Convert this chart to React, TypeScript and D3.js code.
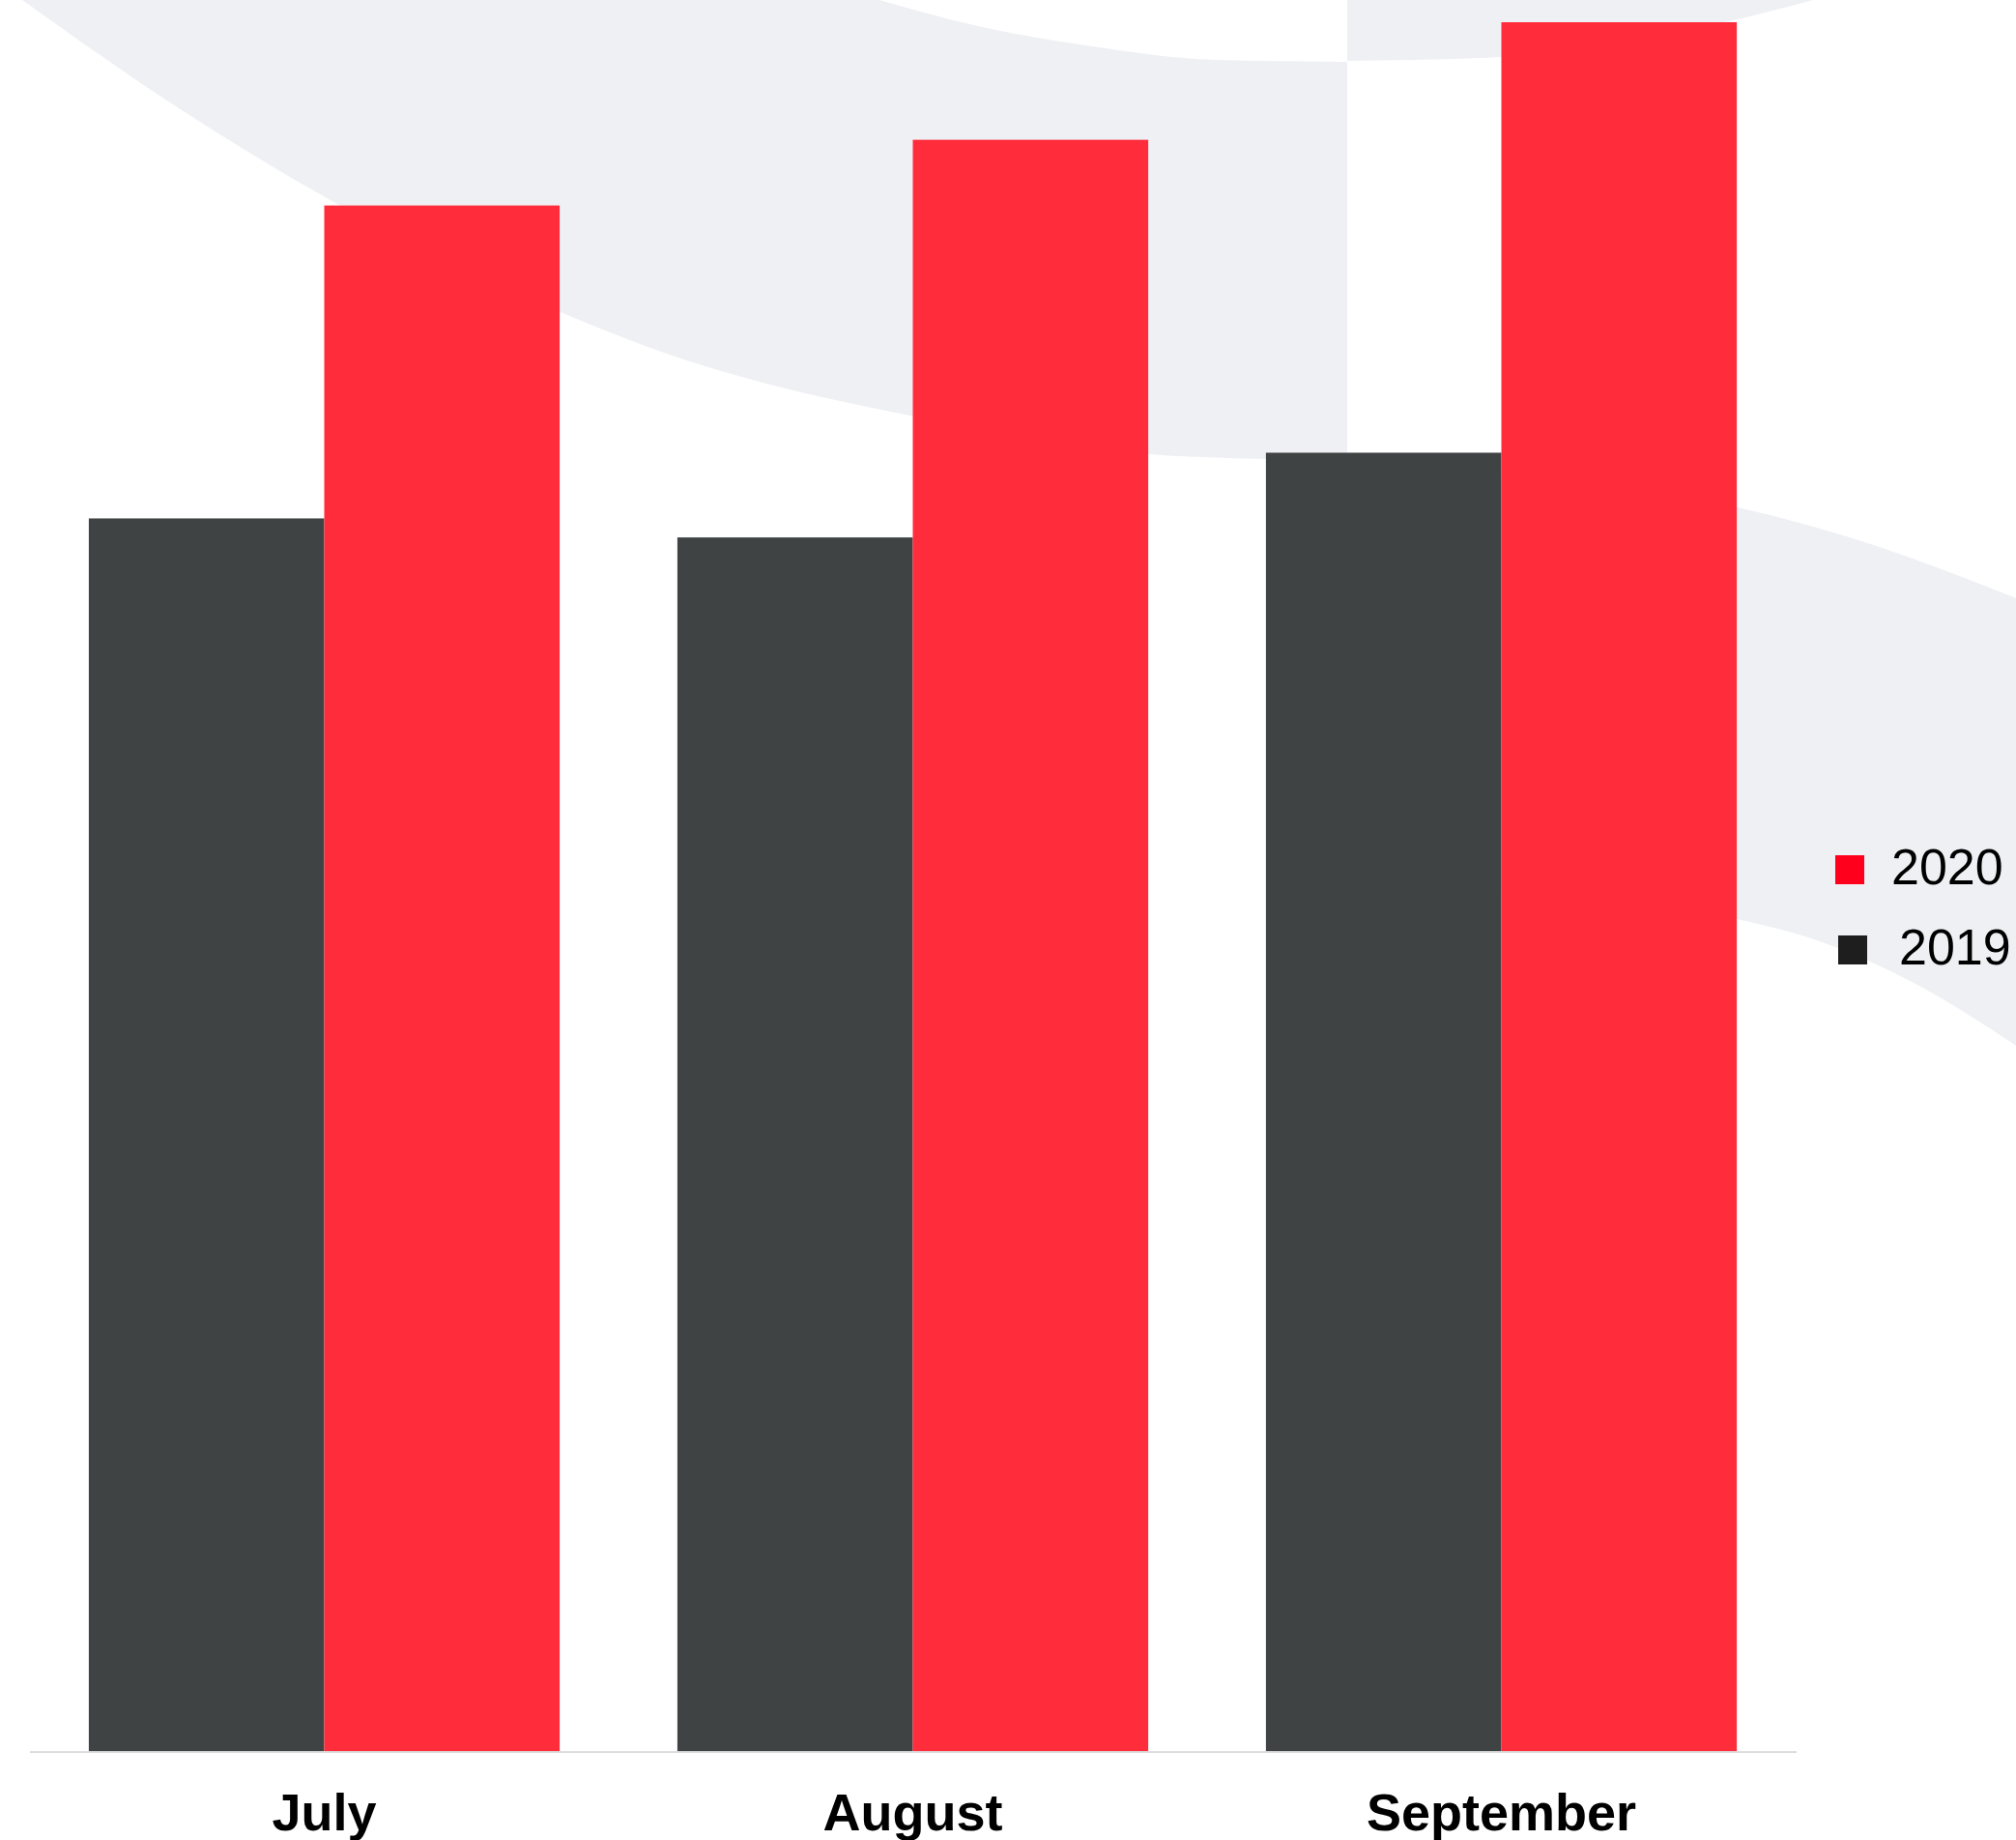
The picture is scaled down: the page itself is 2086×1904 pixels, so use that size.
import * as d3 from "d3";

// chart data
const months = ["July", "August", "September"];
const seriesNames = ["2019", "2020"];
const values2019 = [71.3, 70.2, 75.1];
const values2020 = [89.4, 93.2, 100];
const seriesColors: Record<string, string> = { "2019": "#3f4344", "2020": "#ff2d3b" };
const legendOrder = ["2020", "2019"];
const legendColors: Record<string, string> = { "2020": "#ff001c", "2019": "#1e1e1e" };

// decorative background swoosh outlines
const lowerCurve: [number, number][] = [
  [23, 0], [185, 112], [347, 210], [580, 323], [693, 367], [793, 397],
  [893, 420], [1040, 448], [1189, 470], [1311, 475], [1394, 477],
];
const upperCurveLeft: [number, number][] = [
  [1394, 64], [1258, 62], [1124, 47], [1012, 27], [910, 0],
];
const upperCurveRight: [number, number][] = [
  [1394, 63], [1553, 59], [1798, 20], [1876, 0],
];
const bandTop: [number, number][] = [
  [1394, 477], [1600, 495], [1798, 525], [1920, 558], [2086, 619],
];
const bandBottom: [number, number][] = [
  [2086, 1082], [1980, 1017], [1880, 973], [1797, 951], [1600, 925], [1394, 915],
];

const W = 2086;
const H = 1904;

export default function App() {
  const x0 = d3.scaleBand<string>().domain(months).range([31, 1858]).paddingInner(0.2).paddingOuter(0.1);
  const x1 = d3.scaleBand<string>().domain(seriesNames).range([0, x0.bandwidth()]).padding(0);
  const y = d3.scaleLinear().domain([0, 100]).range([1812, 23]);

  const line = d3.line<[number, number]>().curve(d3.curveMonotoneX);
  const join = (a: [number, number][], b: [number, number][]) =>
    `${line(a)}${(line(b) || "").replace(/^M/, "L")}Z`;

  const shapeLeft = join(lowerCurve, upperCurveLeft);
  const shapeTopRight = `${line(upperCurveRight)}L1876,0L1394,0Z`;
  const shapeBand = join(bandTop, bandBottom);

  const rows = months.map((m, i) => ({ month: m, "2019": values2019[i], "2020": values2020[i] }));

  return (
    <svg
      width={W}
      height={H}
      style={{ position: "absolute", left: 0, top: 0, display: "block", background: "#ffffff" }}
    >
      <g fill="#eff0f4">
        <path d={shapeLeft} />
        <path d={shapeTopRight} />
        <path d={shapeBand} />
      </g>

      {rows.map((r) => (
        <g key={r.month} transform={`translate(${x0(r.month)},0)`}>
          {seriesNames.map((s) => (
            <rect
              key={s}
              x={x1(s)}
              y={y((r as any)[s])}
              width={x1.bandwidth()}
              height={y(0) - y((r as any)[s])}
              fill={seriesColors[s]}
            />
          ))}
        </g>
      ))}

      <line x1={31} x2={1859} y1={y(0) + 1} y2={y(0) + 1} stroke="#dcdcdc" strokeWidth={2} />

      {months.map((m) => (
        <text
          key={m}
          x={(x0(m) || 0) + x0.bandwidth() / 2}
          y={1894}
          textAnchor="middle"
          fontFamily="'Liberation Sans', Arial, sans-serif"
          fontWeight="bold"
          fontSize={54}
          fill="#000"
        >
          {m}
        </text>
      ))}

      {legendOrder.map((s, i) => (
        <g key={s} transform={`translate(${1899 + i * 3},${885 + i * 83})`}>
          <rect x={0} y={0} width={30} height={30} fill={legendColors[s]} />
          <text
            x={58 + i * 5}
            y={30}
            fontFamily="'Liberation Sans', Arial, sans-serif"
            fontSize={52}
            fill="#000"
          >
            {s}
          </text>
        </g>
      ))}
    </svg>
  );
}
